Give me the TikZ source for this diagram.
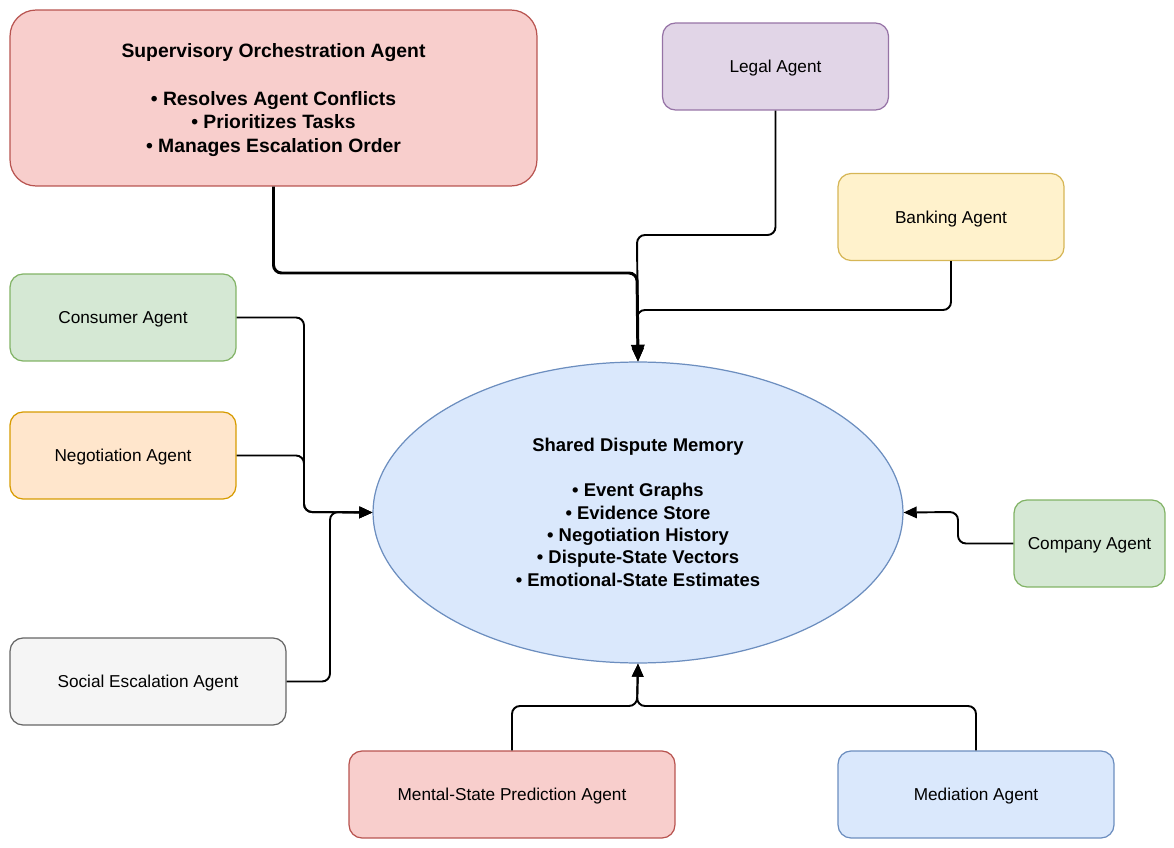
\documentclass[tikz,border=0pt]{standalone}
\usepackage{fontspec}
\setmainfont{Liberation Sans}
\usetikzlibrary{arrows.meta,shapes.geometric}

% Fill and line colours of the agents
\definecolor{redfill}{HTML}{F8CECC}\definecolor{redline}{HTML}{B85450}
\definecolor{purplefill}{HTML}{E1D5E7}\definecolor{purpleline}{HTML}{9673A6}
\definecolor{yellowfill}{HTML}{FFF2CC}\definecolor{yellowline}{HTML}{D6B656}
\definecolor{greenfill}{HTML}{D5E8D4}\definecolor{greenline}{HTML}{82B366}
\definecolor{orangefill}{HTML}{FFE6CC}\definecolor{orangeline}{HTML}{D79B00}
\definecolor{grayfill}{HTML}{F5F5F5}\definecolor{grayline}{HTML}{666666}
\definecolor{bluefill}{HTML}{DAE8FC}\definecolor{blueline}{HTML}{6C8EBF}

\begin{document}
\begin{tikzpicture}[x=0.02cm, y=-0.02cm,
    agent/.style={draw, rounded corners=0.26cm, line width=0.7pt, minimum width=4.52cm,
        minimum height=1.74cm, inner sep=2pt, text depth=0pt, font=\fontsize{9.8}{12}\selectfont},
    link/.style={line width=1.1pt, rounded corners=0.16cm, -{Triangle[length=7.5pt,width=6.5pt]}},
    mainlink/.style={link, line width=1.7pt, -{Triangle[length=9.5pt,width=7.5pt]}}]
        % Page size
        \useasboundingbox (0,0) rectangle (1174,848);
        % Shared memory in the middle
        \node[ellipse, draw=blueline, fill=bluefill, line width=0.7pt, inner sep=0pt,
            minimum width=10.6cm, minimum height=6.02cm, align=center,
            font=\bfseries\fontsize{10.5}{12.75}\selectfont] (mem) at (638,512.5)
            {Shared Dispute Memory\\[12.75pt]
             • Event Graphs\\
             • Evidence Store\\
             • Negotiation History\\
             • Dispute-State Vectors\\
             • Emotional-State Estimates};
        % Supervisor on top
        \node[agent, draw=redline, fill=redfill, rounded corners=0.52cm, minimum width=10.54cm,
            minimum height=3.52cm, align=center, font=\bfseries\fontsize{11}{13.6}\selectfont]
            (sup) at (273.5,98)
            {Supervisory Orchestration Agent\\[13.6pt]
             • Resolves Agent Conflicts\\
             • Prioritizes Tasks\\
             • Manages Escalation Order};
        % All other agents
        \node[agent, draw=purpleline, fill=purplefill] (legal) at (775.5,66.5) {Legal Agent};
        \node[agent, draw=yellowline, fill=yellowfill] (bank) at (951,217) {Banking Agent};
        \node[agent, draw=greenline, fill=greenfill] (cons) at (123,317.5) {Consumer Agent};
        \node[agent, draw=orangeline, fill=orangefill] (nego) at (123,455.5) {Negotiation Agent};
        \node[agent, draw=grayline, fill=grayfill, minimum width=5.52cm] (soc) at (148,681.5)
            {Social Escalation Agent};
        \node[agent, draw=greenline, fill=greenfill, minimum width=3.02cm] (comp) at (1089.5,543.5)
            {Company Agent};
        \node[agent, draw=redline, fill=redfill, minimum width=6.52cm] (ment) at (512,794.5)
            {Mental-State Prediction Agent};
        \node[agent, draw=blueline, fill=bluefill, minimum width=5.52cm] (med) at (976,794.5)
            {Mediation Agent};
        % Links from above
        \draw[link] (legal.south) |- (637,235) -- (mem.north);
        \draw[link] (bank.south) |- (637,310) -- (mem.north);
        \draw[mainlink] (sup.south) |- (637,273) -- (mem.north);
        % Links from the left
        \draw[link] (cons.east) -| (304,512) -- (mem.west);
        \draw[link] (nego.east) -| (304,512) -- (mem.west);
        \draw[link] (soc.east) -| (330,512) -- (mem.west);
        % Link from the right
        \draw[link] (comp.west) -| (958,512) -- (mem.east);
        % Links from below
        \draw[link] (ment.north) |- (637,706) -- (mem.south);
        \draw[link] (med.north) |- (637,706) -- (mem.south);
    \end{tikzpicture}
\end{document}
